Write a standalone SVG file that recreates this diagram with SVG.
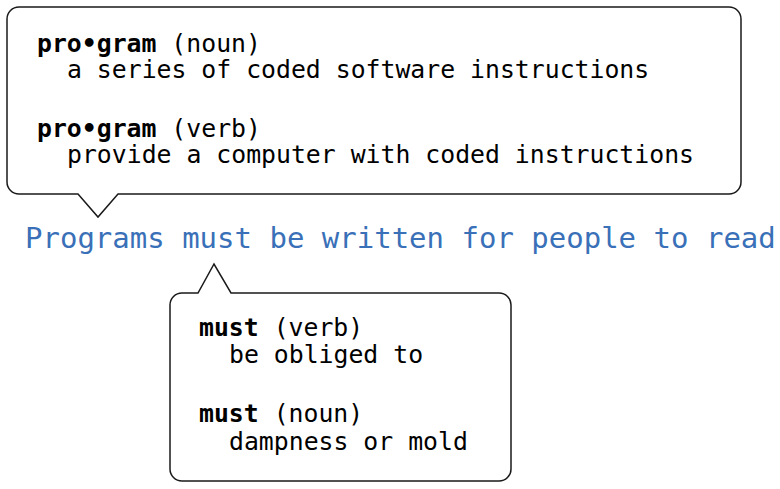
<svg xmlns="http://www.w3.org/2000/svg" width="780" height="489" viewBox="0 0 780 489">
<style>
.bubble{fill:#fff;stroke:#1a1a1a;stroke-width:1.5;stroke-linejoin:miter}
.t{font-family:"DejaVu Sans Mono","Liberation Mono",monospace;font-size:24.8px;fill:#000}
.b{font-weight:bold}
.main{font-family:"DejaVu Sans Mono","Liberation Mono",monospace;font-size:29px;fill:#3a70b8}
</style>
<rect width="780" height="489" fill="#fff"/>
<g id="connectors"></g>
<g id="bubble-program">
<path class="bubble" d="M19,7 H729 A12,12 0 0 1 741,19 V182 A12,12 0 0 1 729,194 H118 L98,217 L78,194 H19 A12,12 0 0 1 7,182 V19 A12,12 0 0 1 19,7 Z"/>
<text class="t" x="37" y="52"><tspan class="b">pro•gram</tspan> (noun)</text>
<text class="t" x="67" y="78">a series of coded software instructions</text>
<text class="t" x="37" y="137"><tspan class="b">pro•gram</tspan> (verb)</text>
<text class="t" x="67" y="163">provide a computer with coded instructions</text>
</g>
<g id="sentence">
<text class="main" x="25" y="248">Programs must be written for people to read</text>
</g>
<g id="bubble-must">
<path class="bubble" d="M182,293 H198 L214,264 L231,293 H499 A12,12 0 0 1 511,305 V469 A12,12 0 0 1 499,481 H182 A12,12 0 0 1 170,469 V305 A12,12 0 0 1 182,293 Z"/>
<text class="t" x="199" y="336"><tspan class="b">must</tspan> (verb)</text>
<text class="t" x="229" y="363">be obliged to</text>
<text class="t" x="199" y="422"><tspan class="b">must</tspan> (noun)</text>
<text class="t" x="229" y="450">dampness or mold</text>
</g>
</svg>
